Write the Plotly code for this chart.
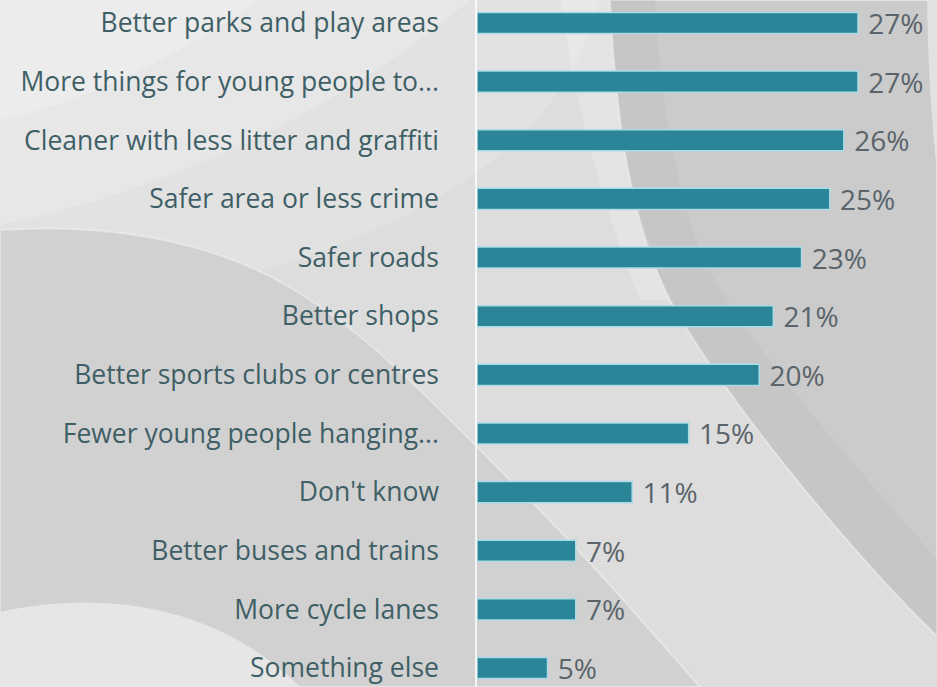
import plotly.graph_objects as go

# Survey responses: what would make the local area better (share of respondents)
categories = [
    "Better parks and play areas",
    "More things for young people to...",
    "Cleaner with less litter and graffiti",
    "Safer area or less crime",
    "Safer roads",
    "Better shops",
    "Better sports clubs or centres",
    "Fewer young people hanging...",
    "Don't know",
    "Better buses and trains",
    "More cycle lanes",
    "Something else",
]
shares = [27, 27, 26, 25, 23, 21, 20, 15, 11, 7, 7, 5]

W, H = 937, 687
LEFT = 477  # left margin where the bars start
BAR = "#2b8598"
LABEL = "#3f5f66"
VALUE = "#5a646a"
FONT = "Open Sans"

fig = go.Figure(
    go.Bar(
        x=shares,
        y=categories,
        orientation="h",
        marker=dict(color=BAR, line=dict(color="#a9dce6", width=1.5)),
        width=0.36,
        text=[f"{v}%" for v in shares],
        texttemplate=" %{text}",
        textposition="outside",
        constraintext="none",
        textfont=dict(family=FONT, size=28, color=VALUE),
        cliponaxis=False,
        hoverinfo="skip",
    )
)


def _pt(x, y):
    """Pixel position on the page -> paper coordinates of the plot area."""
    return f"{(x - LEFT) / (W - LEFT):.4f} {1 - y / H:.4f}"


def path(start, *segments):
    """Build an SVG path; each segment is a point (line) or three points (cubic)."""
    out = "M " + _pt(*start)
    for seg in segments:
        if isinstance(seg[0], tuple):
            out += " C " + ", ".join(_pt(*p) for p in seg)
        else:
            out += " L " + _pt(*seg)
    return out + " Z"


def panel(p, color, rim=None):
    line = dict(width=0) if rim is None else dict(color=rim, width=2)
    return dict(type="path", xref="paper", yref="paper", layer="below",
                path=p, fillcolor=color, line=line)


# Soft grey backdrop with curved panels
shapes = [
    # pale wash across the upper left, stacked for a gentle fade
    panel(path((0, 0), (600, 0), ((560, 150), (420, 260), (0, 330))),
          "rgba(255,255,255,0.16)"),
    panel(path((0, 0), (470, 0), ((340, 110), (170, 190), (0, 225))),
          "rgba(255,255,255,0.2)"),
    panel(path((0, 0), (260, 0), ((170, 60), (90, 100), (0, 120))),
          "rgba(255,255,255,0.22)"),
    # soft glow beside the right panel
    panel(path((560, 0), (612, 0), ((618, 120), (632, 220), (672, 300)), (640, 300),
               ((600, 200), (575, 100), (560, 0))),
          "rgba(255,255,255,0.22)"),
    # darker panel on the right
    panel(path((610, 0), ((616, 120), (630, 220), (670, 300)),
               ((720, 392), (850, 552), (937, 636)), (937, 0)),
          "#cbcbcb", rim="rgba(240,240,240,0.7)"),
    # shading toward the panel's inner edge
    panel(path((610, 0), ((616, 120), (630, 220), (670, 300)),
               ((720, 392), (850, 552), (937, 636)), (937, 560),
               ((860, 470), (740, 340), (700, 250)),
               ((670, 170), (660, 80), (655, 0))),
          "rgba(185,185,185,0.25)"),
    # lighter strip at the far right edge
    panel(path((927, 0), (937, 0), (937, 170), ((931, 120), (928, 60), (927, 0))),
          "#e2e2e2"),
    # darker lobe sweeping from the left edge down to the lower middle
    panel(path((0, 230), ((120, 222), (230, 245), (310, 300)),
               ((380, 345), (440, 410), (520, 490)),
               ((590, 560), (650, 630), (700, 687)), (0, 687)),
          "#d1d1d1", rim="rgba(238,238,238,0.6)"),
    # light swell along the bottom left
    panel(path((0, 612), ((90, 592), (210, 598), (300, 687)), (0, 687)),
          "#e6e6e6"),
]

fig.update_layout(
    width=W,
    height=H,
    margin=dict(l=LEFT, r=0, t=0, b=0, autoexpand=False),
    paper_bgcolor="#dddddd",
    plot_bgcolor="rgba(0,0,0,0)",
    showlegend=False,
    shapes=shapes,
    font=dict(family=FONT),
    xaxis=dict(range=[0, 32.6], visible=False, fixedrange=True),
    yaxis=dict(
        categoryorder="array",
        categoryarray=categories,
        range=[11.323, -0.392],
        showgrid=False,
        zeroline=False,
        showline=True,
        linecolor="rgba(255,255,255,0.75)",
        linewidth=1.5,
        ticks="",
        ticklabelstandoff=31,
        tickfont=dict(family=FONT, size=26.5, color=LABEL),
        automargin=False,
        fixedrange=True,
    ),
)

fig.write_html("out.html")
